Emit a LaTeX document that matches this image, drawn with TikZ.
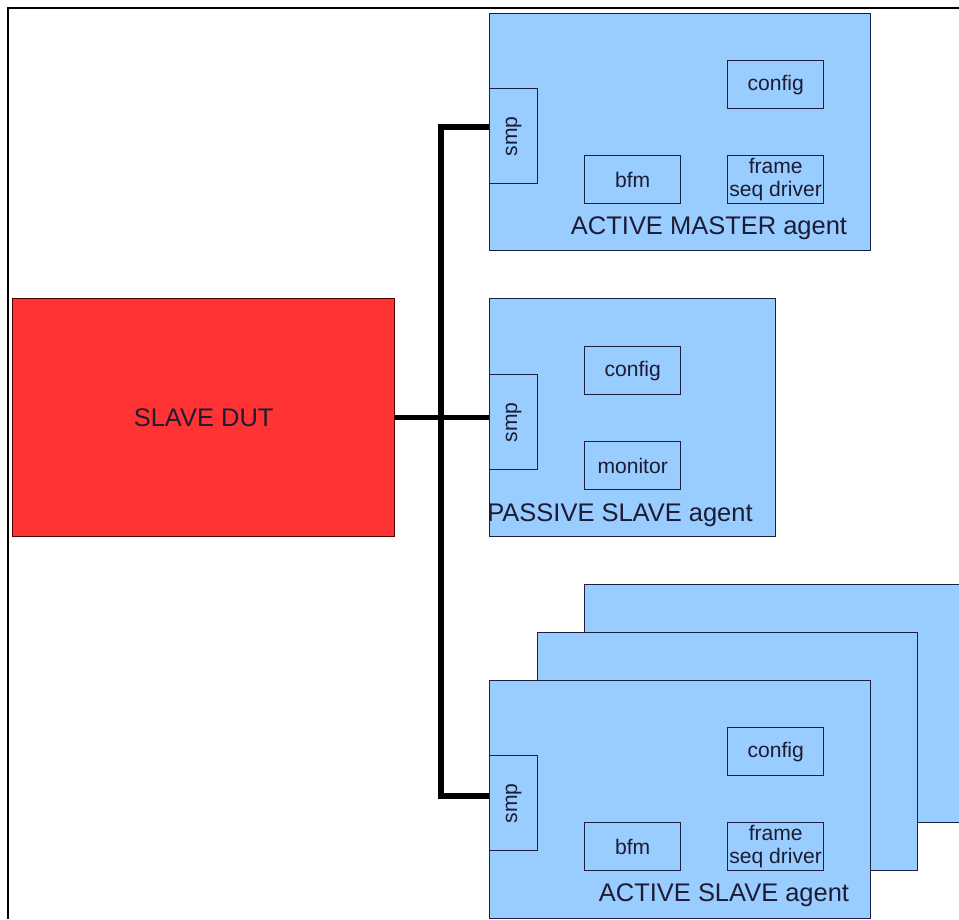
\documentclass[tikz,border=0pt]{standalone}
\usepackage{fontspec}
\setmainfont{Liberation Sans}
\usepackage{tikz}
\usetikzlibrary{positioning,calc}
\definecolor{agentblue}{RGB}{153,204,255}
\definecolor{dutred}{RGB}{255,51,51}
\definecolor{edgenavy}{RGB}{26,32,62}
\definecolor{inknavy}{RGB}{28,28,52}
\tikzset{
    agentbox/.style={draw=edgenavy, fill=agentblue, line width=0.8pt, inner sep=0pt, anchor=north west},
    subbox/.style={draw=edgenavy, line width=0.8pt, inner sep=0pt, minimum width=1.92cm, minimum height=0.96cm,
        text=inknavy, font=\fontsize{12}{13}\selectfont, align=center},
    smpbox/.style={subbox, minimum width=0.96cm, minimum height=1.9cm},
    lbl/.style={text=inknavy, font=\fontsize{14.5}{16}\selectfont, inner sep=0pt},
    bus/.style={line width=2.9pt, line join=miter, black},
}

\begin{document}
\begin{tikzpicture}[x=0.02cm, y=-0.02cm]
    \useasboundingbox (0,0) rectangle (959,919);
    \clip (0,0) rectangle (959,919);

    % Frame
    \draw[line width=0.85pt] (8,919) -- (8,8) -- (959,8);

    % DUT
    \node[draw=black!70!red, fill=dutred, line width=0.8pt, anchor=north west, inner sep=0pt,
          minimum width=7.64cm, minimum height=4.76cm] (dut) at (12,298) {};
    \node[lbl] at (dut.center) {SLAVE DUT};

    % ACTIVE MASTER agent
    \node[agentbox, minimum width=7.62cm, minimum height=4.74cm] (master) at (489,13) {};
    \node[smpbox, anchor=north west] (smpM) at (489,88) {\rotatebox{90}{smp}};
    \node[subbox, anchor=north west] (cfgM) at (727,60) {config};
    \node[subbox, anchor=north west] (bfmM) at (584,155) {bfm};
    \node[subbox, anchor=north west] (drvM) at (727,155) {frame\\seq driver};
    \node[lbl] at (709,228) {ACTIVE MASTER agent};

    % PASSIVE SLAVE agent
    \node[agentbox, minimum width=5.72cm, minimum height=4.76cm] (passive) at (489,298) {};
    \node[smpbox, anchor=north west] (smpP) at (489,374) {\rotatebox{90}{smp}};
    \node[subbox, anchor=north west] (cfgP) at (584,346) {config};
    \node[subbox, anchor=north west] (monP) at (584,441) {monitor};
    \node[lbl] at (620,515) {PASSIVE SLAVE agent};

    % ACTIVE SLAVE agents (stacked)
    \node[agentbox, minimum width=7.6cm, minimum height=4.76cm] (slave3) at (584,584) {};
    \node[agentbox, minimum width=7.6cm, minimum height=4.76cm] (slave2) at (537,632) {};
    \node[agentbox, minimum width=7.62cm, minimum height=4.76cm] (slave1) at (489,680) {};
    \node[smpbox, anchor=north west] (smpA) at (489,755) {\rotatebox{90}{smp}};
    \node[subbox, anchor=north west] (cfgA) at (727,727) {config};
    \node[subbox, anchor=north west] (bfmA) at (584,822) {bfm};
    \node[subbox, anchor=north west] (drvA) at (727,822) {frame\\seq driver};
    \node[lbl] at (724,895) {ACTIVE SLAVE agent};

    % Bus
    \coordinate (tapM) at (441,127);
    \coordinate (tapA) at (441,796);
    \draw[bus] (tapM -| smpM.west) -- (tapM) -- (tapA) -- (tapA -| smpA.west);
    \draw[bus] (dut.east) -- (dut.east -| smpP.west);
\end{tikzpicture}
\end{document}
